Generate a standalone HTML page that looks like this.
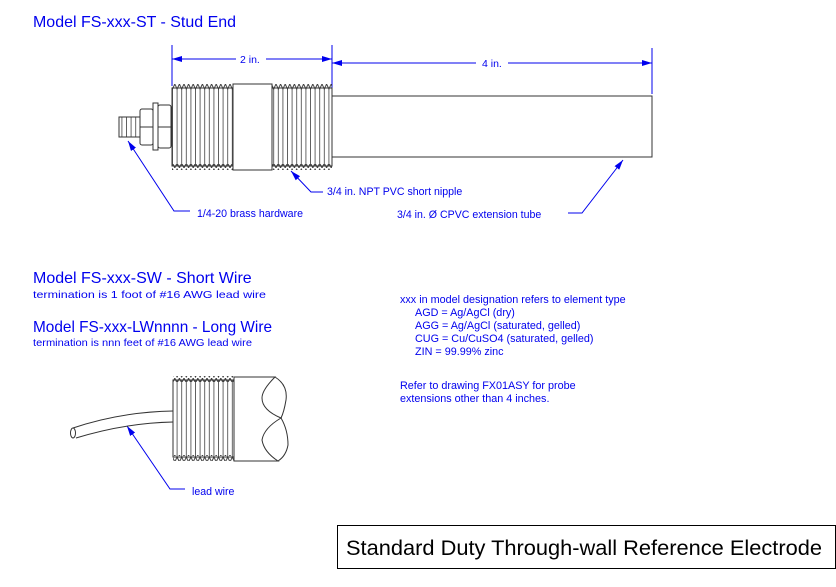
<!DOCTYPE html>
<html><head><style>
html,body{margin:0;padding:0;background:#fff;}
svg{display:block;font-family:"Liberation Sans",Arial,sans-serif;}
</style></head><body>
<svg width="836" height="587" viewBox="0 0 836 587" xmlns="http://www.w3.org/2000/svg">
<defs>
<pattern id="thr" x="0" y="0" width="4.6" height="200" patternUnits="userSpaceOnUse">
<line x1="2.3" y1="0" x2="2.3" y2="200" stroke="#555" stroke-width="0.9"/>
</pattern>
<pattern id="zz" x="0" y="0" width="4.6" height="6" patternUnits="userSpaceOnUse">
<path d="M0 0 L2.3 5 L4.6 0" fill="none" stroke="#333" stroke-width="0.9"/>
</pattern>
<pattern id="zzb" x="0" y="0" width="4.6" height="6" patternUnits="userSpaceOnUse">
<path d="M0 6 L2.3 1 L4.6 6" fill="none" stroke="#333" stroke-width="0.9"/>
</pattern>
<marker id="ar" markerWidth="10" markerHeight="6" refX="10" refY="3" orient="auto" markerUnits="userSpaceOnUse">
<path d="M0 0 L10 3 L0 6 Z" fill="#0000ee"/>
</marker>
</defs>

<g fill="#0000ee">
<text x="33" y="27" font-size="16" textLength="203" lengthAdjust="spacingAndGlyphs">Model FS-xxx-ST - Stud End</text>
<text x="33" y="283" font-size="16">Model FS-xxx-SW - Short Wire</text>
<text x="33" y="298" font-size="10.5" textLength="233" lengthAdjust="spacingAndGlyphs">termination is 1 foot of #16 AWG lead wire</text>
<text x="33" y="332" font-size="16" textLength="239" lengthAdjust="spacingAndGlyphs">Model FS-xxx-LWnnnn - Long Wire</text>
<text x="33" y="346" font-size="10.5" textLength="219" lengthAdjust="spacingAndGlyphs">termination is nnn feet of #16 AWG lead wire</text>
<text x="240" y="63" font-size="10.5">2 in.</text>
<text x="482" y="67" font-size="10.5">4 in.</text>
<text x="197" y="217" font-size="10.6">1/4-20 brass hardware</text>
<text x="327" y="195" font-size="10.6">3/4 in. NPT PVC short nipple</text>
<text x="397" y="218" font-size="10.6">3/4 in. Ø CPVC extension tube</text>
<text x="192" y="495" font-size="10.6">lead wire</text>
<g font-size="10.8">
<text x="400" y="303">xxx in model designation refers to element type</text>
<text x="415" y="316">AGD = Ag/AgCl (dry)</text>
<text x="415" y="329">AGG = Ag/AgCl (saturated, gelled)</text>
<text x="415" y="342">CUG = Cu/CuSO4 (saturated, gelled)</text>
<text x="415" y="355">ZIN = 99.99% zinc</text>
<text x="400" y="389">Refer to drawing FX01ASY for probe</text>
<text x="400" y="402">extensions other than 4 inches.</text>
</g>
</g>

<g stroke="#0000ee" stroke-width="1" fill="none">
<line x1="172" y1="45" x2="172" y2="86"/>
<line x1="332" y1="45" x2="332" y2="92"/>
<line x1="652" y1="48" x2="652" y2="94"/>
<line x1="236" y1="59" x2="172" y2="59" marker-end="url(#ar)"/>
<line x1="266" y1="59" x2="332" y2="59" marker-end="url(#ar)"/>
<line x1="476" y1="63" x2="332" y2="63" marker-end="url(#ar)"/>
<line x1="508" y1="63" x2="652" y2="63" marker-end="url(#ar)"/>
<polyline points="190,211 174,211 128,141" marker-end="url(#ar)"/>
<polyline points="323,192 311,192 291,171" marker-end="url(#ar)"/>
<polyline points="568,213 582,213 623,160" marker-end="url(#ar)"/>
<polyline points="185,489 170,489 127,426" marker-end="url(#ar)"/>
</g>

<g stroke="#333" stroke-width="1">
<rect x="119" y="117" width="21" height="20" fill="url(#thr)"/>
<rect x="140" y="109" width="13" height="36" fill="#fff" rx="2"/>
<line x1="140" y1="127" x2="153" y2="127"/>
<rect x="153" y="103" width="5" height="47" fill="#fff"/>
<rect x="158" y="105" width="13" height="43" fill="#fff" rx="2"/>
<line x1="158" y1="127" x2="171" y2="127"/>
<rect x="172" y="88" width="61" height="78" fill="url(#thr)"/>
<rect x="172" y="84" width="61" height="6" fill="url(#zz)" stroke="none"/>
<rect x="172" y="164" width="61" height="6" fill="url(#zzb)" stroke="none"/>
<rect x="233" y="84" width="39" height="86" fill="#fff"/>
<rect x="272" y="88" width="60" height="78" fill="url(#thr)"/>
<rect x="272" y="84" width="60" height="6" fill="url(#zz)" stroke="none"/>
<rect x="272" y="164" width="60" height="6" fill="url(#zzb)" stroke="none"/>
<rect x="332" y="96" width="320" height="61" fill="#fff"/>
</g>

<g stroke="#333" stroke-width="1" fill="none">
<path d="M73 428 Q120 412 173 411" />
<path d="M76 438 Q125 423 173 422" />
<ellipse cx="73" cy="433" rx="2.5" ry="5" fill="#fff"/>
<rect x="173" y="380" width="61" height="77" fill="url(#thr)"/>
<rect x="173" y="376" width="61" height="6" fill="url(#zz)" stroke="none"/>
<rect x="173" y="455" width="61" height="6" fill="url(#zzb)" stroke="none"/>
<path d="M234 377 L275 377 Q262 390 262 398 Q262 410 281 418 Q264 428 262 440 Q264 452 278 461 L234 461 Z" fill="#fff"/>
<path d="M275 377 Q288 385 286 400 Q284 412 281 418 Q288 430 288 445 Q286 456 278 461"/>
</g>

<rect x="337.5" y="525.5" width="498" height="43" fill="#fff" stroke="#000" stroke-width="1"/>
<text x="346" y="555" font-size="21" fill="#000" textLength="476" lengthAdjust="spacingAndGlyphs">Standard Duty Through-wall Reference Electrode</text>
</svg>
</body></html>
